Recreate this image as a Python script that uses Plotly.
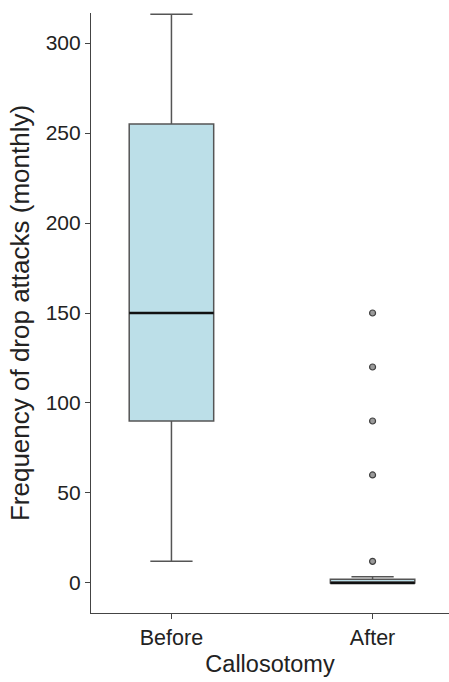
import plotly.graph_objects as go

categories = ["Before", "After"]
q1 = [90, 0]
median = [150, 0]
q3 = [255, 2]
lower_fence = [12, 0]
upper_fence = [316, 3.5]
outlier_x = ["After", "After", "After", "After", "After"]
outlier_y = [12, 60, 90, 120, 150]
y_ticks = [0, 50, 100, 150, 200, 250, 300]

box_width = 0.42
fig = go.Figure()
fig.add_trace(go.Box(
    x=categories, q1=q1, median=median, q3=q3,
    lowerfence=lower_fence, upperfence=upper_fence,
    width=box_width, whiskerwidth=0.5,
    fillcolor="#bcdfe8", line=dict(color="#555555", width=1.5),
    showlegend=False, hoverinfo="skip",
))
fig.add_trace(go.Scatter(
    x=outlier_x, y=outlier_y, mode="markers",
    marker=dict(size=6, color="#9a9a9a", line=dict(color="#404040", width=1.2)),
    showlegend=False,
))
for i, m in enumerate(median):
    fig.add_shape(type="line", xref="x", yref="y",
                  x0=i - box_width / 2, x1=i + box_width / 2, y0=m, y1=m,
                  line=dict(color="#111111", width=2.5))

font = "Liberation Sans, Arial, sans-serif"
fig.update_layout(
    width=449, height=682,
    margin=dict(l=91, r=0, t=13, b=69),
    plot_bgcolor="white", paper_bgcolor="white",
    font=dict(family=font, color="#222222"),
    xaxis=dict(
        type="category", range=[-0.4, 1.38],
        showline=True, linecolor="#444444", linewidth=1.2,
        ticks="outside", ticklen=5, tickcolor="#444444",
        tickfont=dict(size=21.5, family=font, color="#222222"),
        title=dict(text="Callosotomy", font=dict(size=23.5, family=font, color="#222222"), standoff=6),
        showgrid=False, zeroline=False,
    ),
    yaxis=dict(
        range=[-16.7, 316.7], tickvals=y_ticks,
        showline=True, linecolor="#444444", linewidth=1.2,
        ticks="outside", ticklen=5, tickcolor="#444444",
        tickfont=dict(size=21, family=font, color="#222222"),
        title=dict(text="Frequency of drop attacks (monthly)", font=dict(size=26, family=font, color="#222222"), standoff=8),
        showgrid=False, zeroline=False,
    ),
)
fig.write_html("out.html", config={"displayModeBar": False},
               post_script="document.body.style.margin='0';document.body.style.overflow='hidden';")
